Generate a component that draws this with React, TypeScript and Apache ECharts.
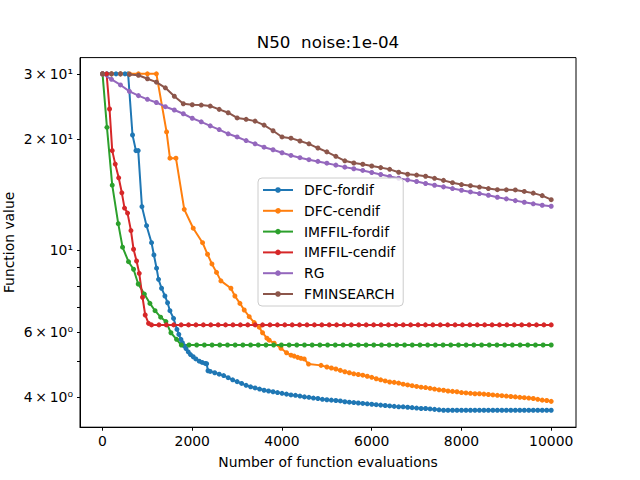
import React, { useEffect, useRef } from "react";
import * as echarts from "echarts";

const TITLE = "N50  noise:1e-04";
const X_NAME = "Number of function evaluations";
const Y_NAME = "Function value";
const SERIES_NAMES = ["DFC-fordif", "DFC-cendif", "IMFFIL-fordif", "IMFFIL-cendif", "RG", "FMINSEARCH"];
const COLORS = ["#1f77b4", "#ff7f0e", "#2ca02c", "#d62728", "#9467bd", "#8c564b"];

const X_TICKS = [0, 2000, 4000, 6000, 8000, 10000];
const Y_LABEL_VALUES = [4, 6, 10, 20, 30];
const Y_LABEL_TEXTS = ["4\u2009×\u200910⁰", "6\u2009×\u200910⁰", "10¹", "2\u2009×\u200910¹", "3\u2009×\u200910¹"];
const Y_TICK_VALUES = [4, 5, 6, 7, 8, 9, 10, 20, 30];

// DFC-fordif
const X_DFC_FOR = [0, 100, 200, 300, 400, 500, 570, 668, 744, 795, 878, 981, 1092, 1145, 1204, 1248, 1315, 1390, 1449, 1502, 1582, 1658, 1700, 1747, 1780, 1821, 1860, 1910, 1960, 2021, 2080, 2155, 2220, 2289, 2320, 2350,
  2400, 2500, 2600, 2700, 2800, 2900, 3000, 3100, 3200, 3300, 3400, 3500, 3600, 3700, 3800, 3900, 4000, 4100, 4200, 4300, 4400, 4500, 4600, 4700, 4800, 4900,
  5000, 5100, 5200, 5300, 5400, 5500, 5600, 5700, 5800, 5900, 6000, 6100, 6200, 6300, 6400, 6500, 6600, 6700, 6800, 6900, 7000, 7100, 7200, 7300, 7400, 7500,
  7600, 7700, 7800, 7900, 8000, 8100, 8200, 8300, 8400, 8500, 8600, 8700, 8800, 8900, 9000, 9100, 9200, 9300, 9400, 9500, 9600, 9700, 9800, 9900, 10000];
const Y_DFC_FOR = [30, 30, 30, 30, 30, 30, 30, 20.5, 18.6, 18.6, 13.12, 11.65, 10.48, 9.71, 8.94, 8.34, 7.89, 7.52, 7.21, 6.86, 6.54, 6.11, 5.92, 5.74, 5.62, 5.51, 5.42, 5.31, 5.22, 5.15, 5.08, 5.01, 4.97, 4.94, 4.93, 4.72,
  4.70, 4.66, 4.62, 4.58, 4.52, 4.46, 4.41, 4.36, 4.31, 4.27, 4.24, 4.21, 4.18, 4.16, 4.14, 4.12, 4.10, 4.08, 4.06, 4.05, 4.03, 4.01, 4.00, 3.98, 3.97, 3.95,
  3.94, 3.93, 3.92, 3.91, 3.89, 3.88, 3.87, 3.86, 3.85, 3.84, 3.83, 3.82, 3.81, 3.80, 3.79, 3.78, 3.77, 3.77, 3.76, 3.75, 3.74, 3.73, 3.73, 3.72, 3.71, 3.70,
  3.69, 3.69, 3.69, 3.69, 3.69, 3.69, 3.69, 3.69, 3.69, 3.69, 3.69, 3.69, 3.69, 3.69, 3.69, 3.69, 3.69, 3.69, 3.69, 3.69, 3.69, 3.69, 3.69, 3.69, 3.69];

// DFC-cendif
const X_DFC_CEN = [0, 200, 400, 600, 800, 1000, 1200, 1427, 1502, 1636, 1821, 2021, 2229, 2340, 2438, 2540, 2638, 2861, 2950, 3062, 3158, 3269, 3381, 3492, 3566, 3663, 3715, 3826, 3976, 4101, 4200, 4272, 4350, 4422, 4495, 4591,
  4870, 5000, 5100, 5200, 5300, 5400, 5500, 5600, 5700, 5800, 5900, 6000, 6100, 6200, 6300, 6400, 6500, 6600, 6700, 6800, 6900, 7000, 7100, 7200, 7300, 7400, 7500,
  7600, 7700, 7800, 7900, 8000, 8100, 8200, 8300, 8400, 8500, 8600, 8700, 8800, 8900, 9000, 9100, 9200, 9300, 9400, 9500, 9600, 9700, 9800, 9900, 10000];
const Y_DFC_CEN = [30, 30, 30, 30, 30, 30, 30, 20.9, 17.74, 17.74, 12.9, 11.47, 10.48, 9.75, 9.18, 8.71, 8.26, 7.89, 7.52, 7.18, 6.89, 6.61, 6.37, 6.19, 5.98, 5.78, 5.71, 5.60, 5.43, 5.28, 5.20, 5.17, 5.13, 5.10, 5.08, 4.92,
  4.88, 4.83, 4.80, 4.77, 4.73, 4.69, 4.66, 4.63, 4.61, 4.59, 4.56, 4.53, 4.49, 4.46, 4.43, 4.40, 4.39, 4.37, 4.34, 4.32, 4.30, 4.28, 4.26, 4.25, 4.23, 4.21, 4.19,
  4.18, 4.16, 4.15, 4.14, 4.12, 4.11, 4.10, 4.09, 4.09, 4.08, 4.07, 4.06, 4.05, 4.04, 4.03, 4.02, 4.01, 4.00, 3.99, 3.98, 3.97, 3.95, 3.93, 3.92, 3.90];

// IMFFIL-fordif
const X_IMF_FOR = [0, 98, 216, 350, 446, 579, 691, 795, 932, 1056, 1170, 1295, 1412, 1524, 1649, 1755,
  1927, 2098, 2270, 2441, 2613, 2785, 2956, 3128, 3300, 3471, 3643, 3814, 3986, 4158, 4329, 4501, 4672, 4844, 5016, 5187, 5359, 5530, 5702, 5874,
  6045, 6217, 6388, 6560, 6732, 6903, 7075, 7246, 7418, 7590, 7761, 7933, 8104, 8276, 8448, 8619, 8791, 8962, 9134, 9306, 9477, 9649, 9820, 10000];
const Y_IMF_FOR = [30, 21.5, 15.0, 11.8, 10.19, 9.31, 8.88, 8.10, 7.61, 7.18, 6.86, 6.59, 6.41, 5.98, 5.74, 5.54,
  5.54, 5.54, 5.54, 5.54, 5.54, 5.54, 5.54, 5.54, 5.54, 5.54, 5.54, 5.54, 5.54, 5.54, 5.54, 5.54, 5.54, 5.54, 5.54, 5.54, 5.54, 5.54, 5.54, 5.54,
  5.54, 5.54, 5.54, 5.54, 5.54, 5.54, 5.54, 5.54, 5.54, 5.54, 5.54, 5.54, 5.54, 5.54, 5.54, 5.54, 5.54, 5.54, 5.54, 5.54, 5.54, 5.54, 5.54, 5.54];

// IMFFIL-cendif
const X_IMF_CEN = [0, 90, 156, 216, 283, 360, 430, 490, 557, 633, 691, 758, 818, 891, 951, 1025, 1092,
  1257, 1422, 1587, 1752, 1917, 2082, 2247, 2412, 2577, 2742, 2907, 3072, 3237, 3402, 3567, 3732, 3897, 4062, 4227, 4392, 4557, 4722, 4887,
  5052, 5217, 5382, 5547, 5712, 5877, 6042, 6207, 6372, 6537, 6702, 6867, 7032, 7197, 7362, 7527, 7692, 7857, 8022, 8187, 8352, 8517, 8682, 8847,
  9012, 9177, 9342, 9507, 9672, 9837, 10000];
const Y_IMF_CEN = [30, 30, 24.1, 18.6, 17.1, 15.7, 14.3, 13.0, 12.6, 11.3, 10.06, 9.35, 8.66, 7.46, 6.68, 6.34, 6.28,
  6.28, 6.28, 6.28, 6.28, 6.28, 6.28, 6.28, 6.28, 6.28, 6.28, 6.28, 6.28, 6.28, 6.28, 6.28, 6.28, 6.28, 6.28, 6.28, 6.28, 6.28, 6.28, 6.28,
  6.28, 6.28, 6.28, 6.28, 6.28, 6.28, 6.28, 6.28, 6.28, 6.28, 6.28, 6.28, 6.28, 6.28, 6.28, 6.28, 6.28, 6.28, 6.28, 6.28, 6.28, 6.28, 6.28, 6.28,
  6.28, 6.28, 6.28, 6.28, 6.28, 6.28, 6.28];

// RG
const X_RG = [0, 200, 400, 600, 800, 1000, 1200, 1400, 1600, 1800, 2000, 2200, 2400, 2600, 2800, 3000, 3200, 3400, 3600, 3800, 4000, 4200, 4400, 4600, 4800,
  5000, 5200, 5400, 5600, 5800, 6000, 6200, 6400, 6600, 6800, 7000, 7200, 7400, 7600, 7800, 8000, 8200, 8400, 8600, 8800, 9000, 9200, 9400, 9600, 9800, 10000];
const Y_RG = [30, 29.0, 28.0, 26.9, 26.2, 25.6, 25.1, 24.45, 23.95, 23.4, 22.75, 22.25, 21.7, 21.2, 20.65, 20.25, 19.8, 19.4, 19.0, 18.7, 18.35, 18.05, 17.8, 17.58, 17.39,
  17.2, 16.99, 16.78, 16.61, 16.44, 16.23, 16.03, 15.83, 15.66, 15.5, 15.34, 15.15, 14.99, 14.84, 14.68, 14.53, 14.38, 14.23, 14.08, 13.91, 13.77, 13.62, 13.48, 13.35, 13.23, 13.15];

// FMINSEARCH
const X_FMIN = [0, 200, 400, 600, 800, 1000, 1200, 1400, 1600, 1800, 2000, 2200, 2400, 2600, 2800, 3000, 3200, 3400, 3600, 3800, 4000, 4200, 4400, 4600, 4800,
  5000, 5200, 5400, 5600, 5800, 6000, 6200, 6400, 6600, 6800, 7000, 7200, 7400, 7600, 7800, 8000, 8200, 8400, 8600, 8800, 9000, 9200, 9400, 9600, 9800, 10000];
const Y_FMIN = [30, 30, 30, 29.9, 29.75, 29.1, 28.5, 27.5, 26.1, 24.9, 24.75, 24.7, 24.55, 24.05, 23.55, 22.8, 22.6, 22.35, 21.8, 21.05, 20.25, 20.1, 19.75, 19.4, 18.9,
  18.45, 17.95, 17.45, 17.22, 17.08, 16.9, 16.73, 16.55, 16.25, 16.05, 15.97, 15.85, 15.65, 15.45, 15.23, 15.05, 14.95, 14.82, 14.68, 14.58, 14.57, 14.56, 14.42, 14.27, 14.05, 13.7];

const SERIES_X = [X_DFC_FOR, X_DFC_CEN, X_IMF_FOR, X_IMF_CEN, X_RG, X_FMIN];
const SERIES_Y = [Y_DFC_FOR, Y_DFC_CEN, Y_IMF_FOR, Y_IMF_CEN, Y_RG, Y_FMIN];

const FONT = "DejaVu Sans";

export default function App() {
  const ref = useRef<HTMLDivElement>(null);
  useEffect(() => {
    if (!ref.current) return;
    const chart = echarts.init(ref.current, null, { renderer: "svg" });
    const series = SERIES_NAMES.map((name, i) => ({
      name,
      type: "line",
      data: SERIES_X[i].map((x, j) => [x, SERIES_Y[i][j]]),
      symbol: "circle",
      symbolSize: 5,
      showSymbol: true,
      lineStyle: { width: 2, color: COLORS[i] },
      itemStyle: { color: COLORS[i] },
      emphasis: { disabled: true },
    }));
    chart.setOption({
      animation: false,
      backgroundColor: "#ffffff",
      textStyle: { fontFamily: FONT },
      title: {
        text: TITLE,
        left: 328,
        top: 33,
        textAlign: "center",
        padding: 0,
        textStyle: { fontSize: 16.7, fontWeight: "normal", color: "#000", fontFamily: FONT },
      },
      grid: {
        left: 80,
        right: 64,
        top: 57.6,
        bottom: 52.8,
        show: true,
        borderColor: "#000",
        borderWidth: 1,
        backgroundColor: "transparent",
        containLabel: false,
        outerBoundsMode: "none",
      },
      legend: {
        orient: "vertical",
        left: 258,
        top: 178,
        padding: [5, 8, 5, 4],
        itemGap: 6.8,
        itemWidth: 30,
        itemHeight: 7,
        borderColor: "#cccccc",
        borderWidth: 1,
        borderRadius: 4,
        backgroundColor: "rgba(255,255,255,0.8)",
        textStyle: { fontSize: 13.9, color: "#000", fontFamily: FONT, lineHeight: 14, padding: [0, 0, 0, 6] },
        data: SERIES_NAMES,
      },
      xAxis: {
        type: "value",
        min: -502.5,
        max: 10552.5,
        name: X_NAME,
        nameLocation: "middle",
        nameGap: 28,
        nameMoveOverlap: false,
        nameTextStyle: { fontSize: 13.9, color: "#000", fontFamily: FONT, verticalAlign: "top" },
        axisLine: { show: true, onZero: false, lineStyle: { color: "#000", width: 1 } },
        axisTick: { show: true, length: 3.5, lineStyle: { color: "#000", width: 1 }, customValues: X_TICKS },
        axisLabel: {
          margin: 7,
          fontSize: 13.9,
          color: "#000",
          fontFamily: FONT,
          customValues: X_TICKS,
          formatter: (v: number) => String(v),
        },
        splitLine: { show: false },
      },
      yAxis: {
        type: "log",
        logBase: 10,
        min: 3.32,
        max: 33.2,
        name: Y_NAME,
        nameLocation: "middle",
        nameGap: 64,
        nameRotate: 90,
        nameMoveOverlap: false,
        nameTextStyle: { fontSize: 13.9, color: "#000", fontFamily: FONT },
        axisLine: { show: true, onZero: false, lineStyle: { color: "#000", width: 1 } },
        axisTick: { show: true, length: 3, lineStyle: { color: "#000", width: 1 }, customValues: Y_TICK_VALUES },
        minorTick: { show: false },
        axisLabel: {
          margin: 7,
          fontSize: 13.9,
          color: "#000",
          fontFamily: FONT,
          customValues: Y_LABEL_VALUES,
          formatter: (v: number) => {
            const i = Y_LABEL_VALUES.findIndex((t) => Math.abs(t - v) < t * 1e-3);
            return i >= 0 ? Y_LABEL_TEXTS[i] : "";
          },
        },
        splitLine: { show: false },
      },
      series,
    });
    return () => chart.dispose();
  }, []);
  return (
    <div
      ref={ref}
      style={{ position: "fixed", left: 0, top: 0, width: 640, height: 480, background: "#fff" }}
    />
  );
}
